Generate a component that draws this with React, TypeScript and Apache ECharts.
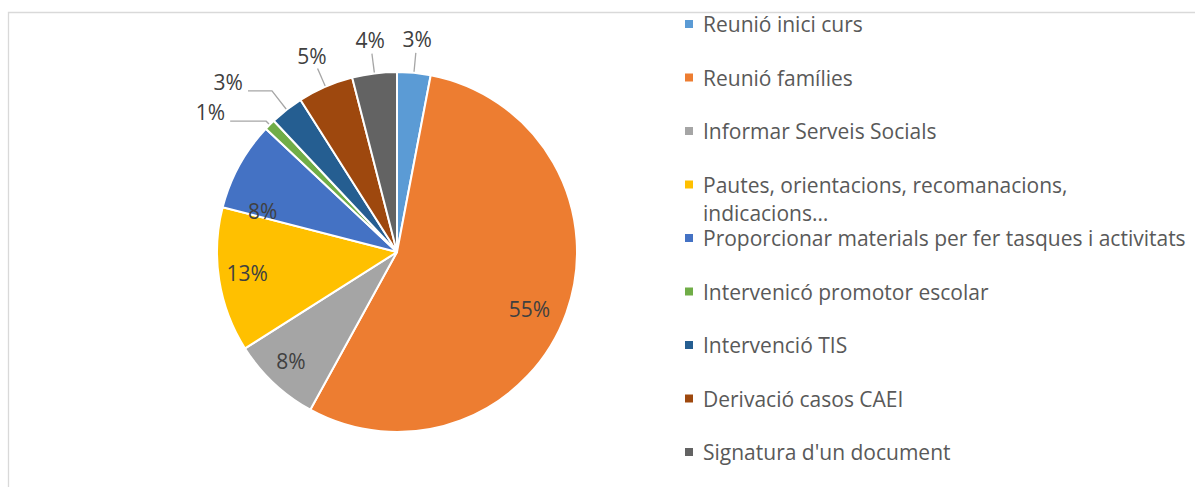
import React, { useEffect, useRef } from "react";
import * as echarts from "echarts";

const categories = [
  "Reunió inici curs",
  "Reunió famílies",
  "Informar Serveis Socials",
  "Pautes, orientacions, recomanacions, indicacions…",
  "Proporcionar materials per fer tasques i activitats",
  "Intervenicó promotor escolar",
  "Intervenció TIS",
  "Derivació casos CAEI",
  "Signatura d'un document",
];

const values = [3, 55, 8, 13, 8, 1, 3, 5, 4];

const colors = [
  "#5B9BD5",
  "#ED7D31",
  "#A5A5A5",
  "#FFC000",
  "#4472C4",
  "#70AD47",
  "#255E91",
  "#9E480E",
  "#636363",
];

// label placement rules (styles, kept apart from the data)
type Place =
  | { mode: "inside"; ratio: number; shift: number }
  | { mode: "radial"; r1: number; rl: number }
  | { mode: "side"; r1: number; h: number };

const labelPlaces: Place[] = [
  { mode: "radial", r1: 200, rl: 214 },
  { mode: "inside", ratio: 0.8, shift: 3.4 },
  { mode: "inside", ratio: 0.845, shift: 1 },
  { mode: "inside", ratio: 0.84, shift: 1 },
  { mode: "inside", ratio: 0.78, shift: -12 },
  { mode: "side", r1: 185, h: 36 },
  { mode: "side", r1: 204, h: 24 },
  { mode: "radial", r1: 200, rl: 214 },
  { mode: "radial", r1: 200, rl: 214 },
];

const FONT = "'Open Sans', 'Noto Sans', sans-serif";
const FONT_SIZE = 21;
const CX = 397;
const CY = 252;
const R = 180;

const LEGEND_LEFT = 685;
const LEGEND_FIRST = 24;
const LEGEND_STEP = 53.5;
const LINE_H_WRAP = 28;
const LINE_H_SINGLE = 22;

function wrapLegend(name: string) {
  if (name.startsWith("Pautes")) {
    return " \n" + name.replace("recomanacions, ", "recomanacions,\n");
  }
  return name;
}

export default function App() {
  const ref = useRef<HTMLDivElement>(null);

  useEffect(() => {
    if (!ref.current) return;
    const chart = echarts.init(ref.current, null, { renderer: "svg" });

    const total = values.reduce((a, b) => a + b, 0);
    const midAngles: number[] = [];
    let cum = 0;
    values.forEach((v) => {
      midAngles.push((2 * Math.PI * (cum + v / 2)) / total);
      cum += v;
    });

    const legends = categories.map((name, i) => {
      const lines = wrapLegend(name).split("\n").length;
      const lh = lines > 1 ? LINE_H_WRAP : LINE_H_SINGLE;
      const center = LEGEND_FIRST + i * LEGEND_STEP;
      return {
        orient: "vertical",
        left: LEGEND_LEFT,
        top: center - (lines * lh) / 2,
        padding: 0,
        itemWidth: 8,
        itemHeight: 8,
        icon: "rect",
        itemStyle: { borderWidth: 0 },
        selectedMode: false,
        data: [name],
        formatter: (n: string) => wrapLegend(n),
        textStyle: {
          fontFamily: FONT,
          fontSize: FONT_SIZE,
          color: "#595959",
          lineHeight: lh,
          padding: [0, 0, 0, 5],
        },
      };
    });

    const option: any = {
      animation: false,
      color: colors,
      graphic: [
        {
          type: "rect",
          z: -10,
          shape: { x: 8.5, y: 12.5, width: 1400, height: 900 },
          style: { fill: "none", stroke: "#d9d9d9", lineWidth: 1.3 },
          silent: true,
        },
      ],
      legend: legends,
      series: [
        {
          type: "pie",
          center: [CX, CY],
          radius: R,
          startAngle: 90,
          clockwise: true,
          avoidLabelOverlap: false,
          itemStyle: { borderColor: "#ffffff", borderWidth: 2 },
          emphasis: { disabled: true },
          label: {
            show: true,
            formatter: "{c}%",
            fontFamily: FONT,
            fontSize: FONT_SIZE,
            color: "#404040",
          },
          labelLine: {
            show: true,
            length: 10,
            length2: 10,
            lineStyle: { color: "#a6a6a6", width: 1.3 },
          },
          labelLayout: (params: any) => {
            const i = params.dataIndex;
            const p = labelPlaces[i];
            const th = midAngles[i];
            const dx = Math.sin(th);
            const dy = -Math.cos(th);
            if (p.mode === "inside") {
              const t = th + (p.shift * Math.PI) / 180;
              return {
                x: CX + Math.sin(t) * p.ratio * R,
                y: CY - Math.cos(t) * p.ratio * R,
                align: "center",
                verticalAlign: "middle",
              };
            }
            const p0 = [CX + dx * R, CY + dy * R];
            const p1 = [CX + dx * p.r1, CY + dy * p.r1];
            if (p.mode === "radial") {
              return {
                x: CX + dx * p.rl,
                y: CY + dy * p.rl,
                align: "center",
                verticalAlign: "middle",
                labelLinePoints: [p0, p1, p1],
              };
            }
            const sign = dx < 0 ? -1 : 1;
            const p2 = [p1[0] + sign * p.h, p1[1]];
            return {
              x: p2[0] + sign * 5,
              y: p2[1] - 9,
              align: sign < 0 ? "right" : "left",
              verticalAlign: "middle",
              labelLinePoints: [p0, p1, p2],
            };
          },
          data: categories.map((name, i) => ({
            name,
            value: values[i],
            label: {
              position: labelPlaces[i].mode === "inside" ? "inside" : "outside",
            },
            labelLine: { show: labelPlaces[i].mode !== "inside" },
          })),
        },
      ],
    };

    chart.setOption(option);
    return () => chart.dispose();
  }, []);

  return (
    <div
      ref={ref}
      style={{
        position: "fixed",
        left: 0,
        top: 0,
        width: 1195,
        height: 487,
        background: "#ffffff",
      }}
    />
  );
}
